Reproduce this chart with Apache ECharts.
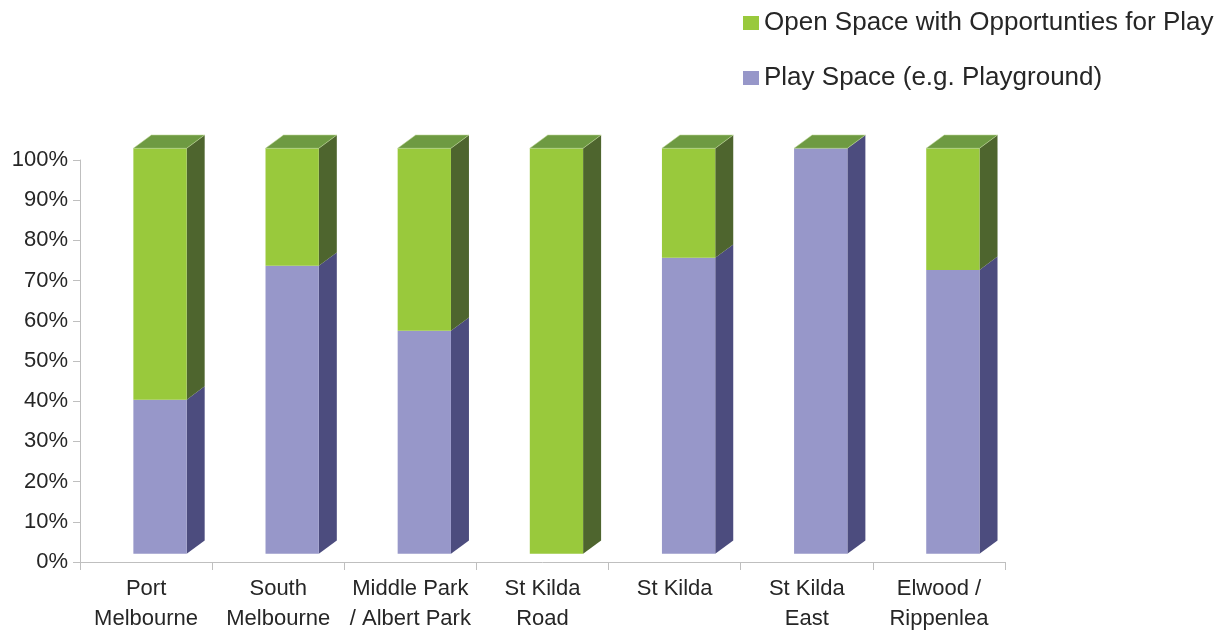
<!DOCTYPE html>
<html>
<head>
<meta charset="utf-8">
<script src="https://cdn.jsdelivr.net/npm/echarts@6/dist/echarts.min.js"></script>
<style>
  html, body { margin: 0; padding: 0; background: #ffffff; }
  #chart { width: 1230px; height: 634px; }
</style>
</head>
<body>
<div id="chart"></div>
<script>
// Neighbourhood names (two-line axis labels)
var categories = [
  'Port\nMelbourne',
  'South\nMelbourne',
  'Middle Park\n/ Albert Park',
  'St Kilda\nRoad',
  'St Kilda',
  'St Kilda\nEast',
  'Elwood /\nRippenlea'
];

// Share of each kind of space (%)
var playSpace = [38, 71, 55, 0, 73, 100, 70];
var openSpace = [62, 29, 45, 100, 27, 0, 30];

var yTicks = [0, 10, 20, 30, 40, 50, 60, 70, 80, 90, 100];

var seriesNames = ['Open Space with Opportunties for Play', 'Play Space (e.g. Playground)'];

var palette = {
  green:  { front: '#99c93c', side: '#4e652e', top: '#6e9a42' },
  purple: { front: '#9797c9', side: '#4c4c7e', top: '#7c7cae' }
};

// Pseudo-3D column geometry
var FACE_OFFSET = -12.7;   // front face left edge relative to category centre
var FACE_WIDTH = 53.3;
var DEPTH_X = 18;
var DEPTH_Y = -13.3;

function frontY(api, i, v) {
  // front face sits slightly behind the axis plane
  return api.coord([i, v])[1] - 8.3 - 3.4 * v / 100;
}

function makeRenderer(colors, drawTop) {
  return function (params, api) {
    var i = api.value(0);
    var base = api.value(1);
    var top = api.value(2);
    var cx = api.coord([i, 0])[0];
    var L = cx + FACE_OFFSET;
    var R = L + FACE_WIDTH;
    var yB = frontY(api, i, base);
    var yT = frontY(api, i, top);
    var children = [];
    if (top > base) {
      children.push({
        type: 'polygon',
        shape: { points: [[R, yT], [R + DEPTH_X, yT + DEPTH_Y], [R + DEPTH_X, yB + DEPTH_Y], [R, yB]] },
        style: { fill: colors.side }
      });
      children.push({
        type: 'rect',
        shape: { x: L, y: yT, width: FACE_WIDTH, height: yB - yT },
        style: { fill: colors.front }
      });
    }
    if (drawTop) {
      children.push({
        type: 'polygon',
        shape: { points: [[L, yT], [L + DEPTH_X, yT + DEPTH_Y], [R + DEPTH_X, yT + DEPTH_Y], [R, yT]] },
        style: { fill: colors.top, stroke: 'rgba(190,215,150,0.7)', lineWidth: 0.8 }
      });
    }
    return { type: 'group', children: children };
  };
}

var playData = categories.map(function (c, i) { return [i, 0, playSpace[i]]; });
var openData = categories.map(function (c, i) { return [i, playSpace[i], playSpace[i] + openSpace[i]]; });

var chart = echarts.init(document.getElementById('chart'), null, { renderer: 'canvas' });

var textColor = '#262626';
var axisColor = '#bfbfbf';
var font = '"Liberation Sans", Arial, sans-serif';

chart.setOption({
  backgroundColor: '#ffffff',
  animation: false,
  legend: {
    orient: 'vertical',
    left: 743,
    top: 10,
    padding: 0,
    itemWidth: 16,
    itemHeight: 14,
    itemGap: 29,
    icon: 'rect',
    data: seriesNames,
    textStyle: { fontSize: 26, lineHeight: 26, color: textColor, fontFamily: font }
  },
  grid: { left: 80, right: 225, top: 160, bottom: 67, containLabel: false },
  xAxis: {
    type: 'category',
    data: categories,
    boundaryGap: true,
    axisLine: { show: true, lineStyle: { color: axisColor, width: 1 } },
    axisTick: { show: true, alignWithLabel: false, interval: 0, length: 8, lineStyle: { color: axisColor } },
    axisLabel: { interval: 0, fontSize: 22, lineHeight: 30, color: textColor, fontFamily: font, margin: 12 },
    splitLine: { show: false }
  },
  yAxis: {
    type: 'value',
    min: yTicks[0],
    max: yTicks[yTicks.length - 1],
    interval: yTicks[1] - yTicks[0],
    axisLine: { show: true, lineStyle: { color: axisColor, width: 1 } },
    axisTick: { show: true, length: 7, lineStyle: { color: axisColor } },
    axisLabel: { formatter: '{value}%', fontSize: 22, color: textColor, fontFamily: font, margin: 12 },
    splitLine: { show: false }
  },
  series: [
    {
      name: seriesNames[1],
      type: 'custom',
      itemStyle: { color: palette.purple.front },
      renderItem: makeRenderer(palette.purple, false),
      encode: { x: 0, y: [1, 2] },
      data: playData,
      z: 2
    },
    {
      name: seriesNames[0],
      type: 'custom',
      itemStyle: { color: palette.green.front },
      renderItem: makeRenderer(palette.green, true),
      encode: { x: 0, y: [1, 2] },
      data: openData,
      z: 3
    }
  ]
});
</script>
</body>
</html>
